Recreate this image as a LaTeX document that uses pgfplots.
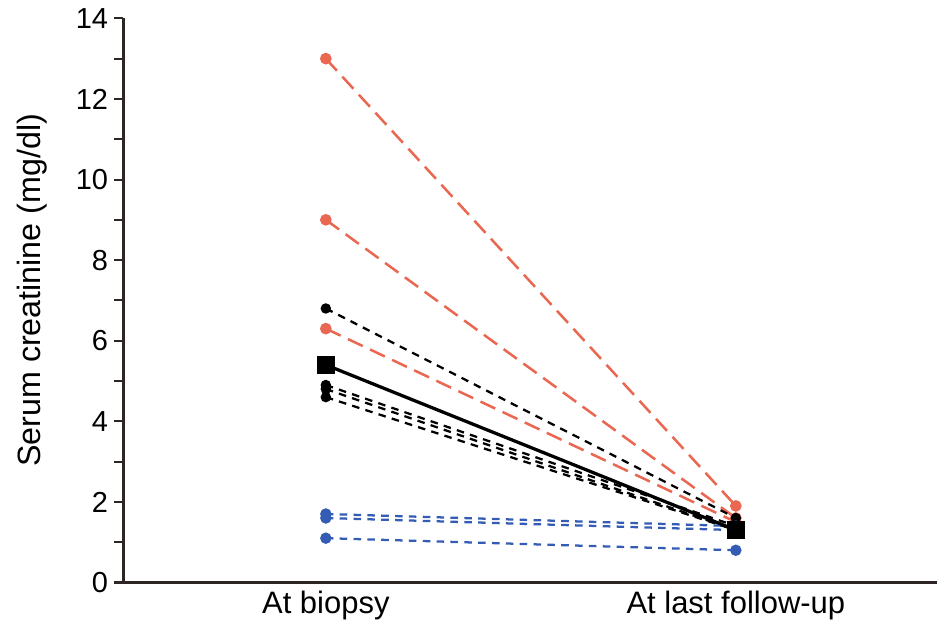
\documentclass[border={3.5pt 0pt 0pt 0pt}]{standalone}
\usepackage{fontspec}
\setmainfont{Liberation Sans}
\usepackage{pgfplots}
\pgfplotsset{compat=1.18}
\definecolor{redl}{RGB}{234,104,82}
\definecolor{bluel}{RGB}{52,92,180}
\definecolor{axc}{RGB}{45,38,36}
\begin{document}
\begin{tikzpicture}
\begin{axis}[
  scale only axis,
  width=323pt, height=224pt,
  xmin=-0.494, xmax=1.49,
  ymin=0, ymax=14,
  axis x line*=bottom,
  axis y line*=left,
  axis line style={axc, line width=1pt},
  xtick={0,1},
  xticklabels={At biopsy, At last follow-up},
  xtick style={draw=none},
  ytick={0,2,...,14},
  minor ytick={1,3,...,13},
  tick align=outside,
  major tick length=3.5pt,
  minor tick length=3.5pt,
  every tick/.style={axc, line width=0.8pt},
  ylabel={Serum creatinine (mg/dl)},
  ylabel style={yshift=4.5pt, xshift=4pt, font=\fontsize{12.8}{14}\selectfont},
  yticklabel style={xshift=1pt, font=\fontsize{11.5}{13}\selectfont},
  xticklabel style={yshift=3.5pt, font=\fontsize{12.3}{14}\selectfont},
  /pgf/number format/assume math mode=true,
  clip=false,
]
% red group
\addplot[redl, line width=1pt, dash pattern=on 6.5pt off 3.2pt, mark=*, mark size=1.8pt, mark options={solid}] coordinates {(0,13.0) (1,1.9)};
\addplot[redl, line width=1pt, dash pattern=on 6.5pt off 3.2pt, mark=*, mark size=1.8pt, mark options={solid}] coordinates {(0,9.0) (1,1.6)};
\addplot[redl, line width=1pt, dash pattern=on 6.5pt off 3.2pt, mark=*, mark size=1.8pt, mark options={solid}] coordinates {(0,6.3) (1,1.5)};
% black group
\addplot[black, line width=0.9pt, dash pattern=on 3pt off 2.5pt, mark=*, mark size=1.6pt, mark options={solid}] coordinates {(0,6.8) (1,1.6)};
\addplot[black, line width=0.9pt, dash pattern=on 3pt off 2.5pt, mark=*, mark size=1.6pt, mark options={solid}] coordinates {(0,4.9) (1,1.4)};
\addplot[black, line width=0.9pt, dash pattern=on 3pt off 2.5pt, mark=*, mark size=1.6pt, mark options={solid}] coordinates {(0,4.8) (1,1.3)};
\addplot[black, line width=0.9pt, dash pattern=on 3pt off 2.5pt, mark=*, mark size=1.6pt, mark options={solid}] coordinates {(0,4.6) (1,1.3)};
% blue group
\addplot[bluel, line width=0.9pt, dash pattern=on 3pt off 2.5pt, mark=*, mark size=1.8pt, mark options={solid}] coordinates {(0,1.7) (1,1.4)};
\addplot[bluel, line width=0.9pt, dash pattern=on 3pt off 2.5pt, mark=*, mark size=1.8pt, mark options={solid}] coordinates {(0,1.6) (1,1.3)};
\addplot[bluel, line width=0.9pt, dash pattern=on 3pt off 2.5pt, mark=*, mark size=1.8pt, mark options={solid}] coordinates {(0,1.1) (1,0.8)};
% mean
\addplot[black, line width=1.3pt, mark=square*, mark size=2.8pt] coordinates {(0,5.4) (1,1.3)};
\end{axis}
\end{tikzpicture}
\end{document}
